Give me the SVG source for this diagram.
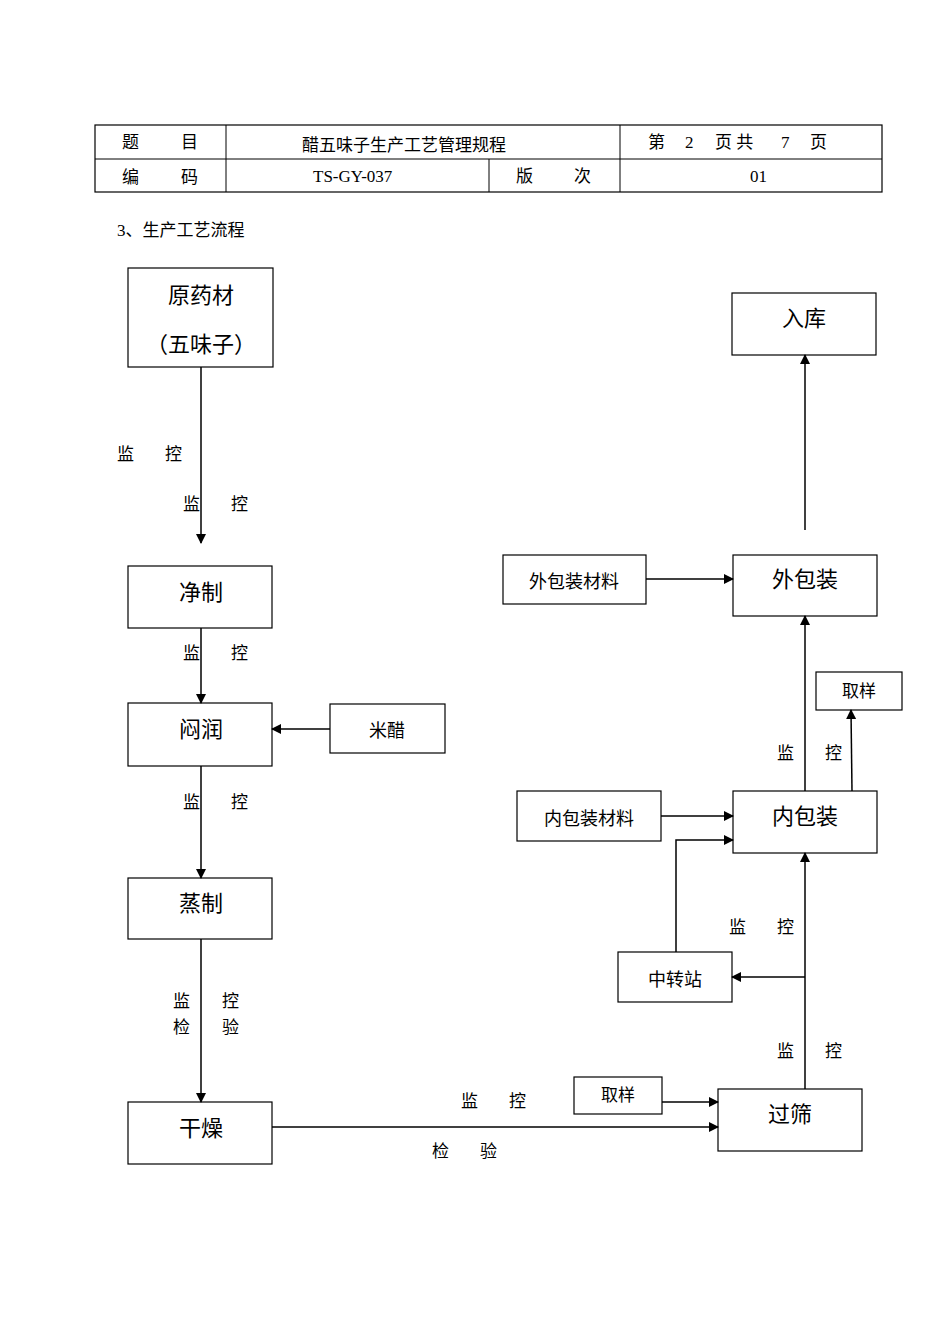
<svg xmlns="http://www.w3.org/2000/svg" width="950" height="1344" viewBox="0 0 950 1344">
<style>
text{font-family:"Liberation Serif","Noto Sans CJK SC",serif;fill:#000;white-space:pre}
.t{font-size:17px}
.b{font-size:22px;text-anchor:middle}
.m{font-size:18px;text-anchor:middle}
.s{font-size:17px}
rect{fill:#fff;stroke:#000;stroke-width:1.2}
line,polyline{stroke:#000;stroke-width:1.5;fill:none}
</style>
<defs><marker id="a" markerWidth="10" markerHeight="10" refX="9" refY="5" orient="auto" markerUnits="userSpaceOnUse"><path d="M0,0 L10,5 L0,10 z" fill="#000"/></marker></defs>
<g id="header">
<rect x="95" y="125" width="787" height="67"/>
<line x1="95" y1="159" x2="882" y2="159" style="stroke-width:1"/>
<line x1="226" y1="125" x2="226" y2="192" style="stroke-width:1"/>
<line x1="620" y1="125" x2="620" y2="192" style="stroke-width:1"/>
<line x1="489" y1="159" x2="489" y2="192" style="stroke-width:1"/>
<text class="t" x="122" y="148">题</text><text class="t" x="181" y="148">目</text>
<text class="t" x="302" y="151">醋五味子生产工艺管理规程</text>
<text class="t" x="648" y="148">第</text><text class="t" x="685" y="148">2</text><text class="t" x="715" y="148">页 共</text><text class="t" x="781" y="148">7</text><text class="t" x="810" y="148">页</text>
<text class="t" x="122" y="183">编</text><text class="t" x="181" y="183">码</text>
<text class="t" x="313" y="182">TS-GY-037</text>
<text class="t" x="516" y="182">版</text><text class="t" x="574" y="182">次</text>
<text class="t" x="750" y="182">01</text>
<text class="t" x="117" y="236">3、生产工艺流程</text>
</g>
<g id="n1"><rect x="128" y="268" width="145" height="99"/><text class="b" x="201" y="303">原药材</text><text class="b" x="201" y="352">（五味子）</text></g>
<g id="n2"><rect x="128" y="566" width="144" height="62"/><text class="b" x="201" y="600">净制</text></g>
<g id="n3"><rect x="128" y="703" width="144" height="63"/><text class="b" x="201" y="737">闷润</text></g>
<g id="n4"><rect x="330" y="704" width="115" height="49"/><text class="m" x="387" y="737">米醋</text></g>
<g id="n5"><rect x="128" y="878" width="144" height="61"/><text class="b" x="201" y="911">蒸制</text></g>
<g id="n6"><rect x="128" y="1102" width="144" height="62"/><text class="b" x="201" y="1136">干燥</text></g>
<g id="n7"><rect x="732" y="293" width="144" height="62"/><text class="b" x="804" y="326">入库</text></g>
<g id="n8"><rect x="733" y="555" width="144" height="61"/><text class="b" x="805" y="587">外包装</text></g>
<g id="n9"><rect x="503" y="555" width="143" height="49"/><text class="m" x="574" y="588">外包装材料</text></g>
<g id="n10"><rect x="816" y="672" width="86" height="38"/><text class="s" x="859" y="697" text-anchor="middle">取样</text></g>
<g id="n11"><rect x="733" y="791" width="144" height="62"/><text class="b" x="805" y="824">内包装</text></g>
<g id="n12"><rect x="517" y="791" width="144" height="50"/><text class="m" x="589" y="825">内包装材料</text></g>
<g id="n13"><rect x="618" y="952" width="114" height="50"/><text class="m" x="675" y="986">中转站</text></g>
<g id="n14"><rect x="718" y="1089" width="144" height="62"/><text class="b" x="790" y="1122">过筛</text></g>
<g id="n15"><rect x="574" y="1077" width="88" height="37"/><text class="s" x="618" y="1101" text-anchor="middle">取样</text></g>
<g id="connectors">
<line x1="201" y1="367" x2="201" y2="543" marker-end="url(#a)"/>
<line x1="201" y1="628" x2="201" y2="703" marker-end="url(#a)"/>
<line x1="330" y1="729" x2="272" y2="729" marker-end="url(#a)"/>
<line x1="201" y1="766" x2="201" y2="878" marker-end="url(#a)"/>
<line x1="201" y1="939" x2="201" y2="1102" marker-end="url(#a)"/>
<line x1="272" y1="1127" x2="718" y2="1127" marker-end="url(#a)"/>
<line x1="662" y1="1102" x2="718" y2="1102" marker-end="url(#a)"/>
<line x1="805" y1="1089" x2="805" y2="853" marker-end="url(#a)"/>
<line x1="805" y1="977" x2="732" y2="977" marker-end="url(#a)"/>
<polyline points="676,952 676,840 733,840" marker-end="url(#a)"/>
<line x1="661" y1="816" x2="733" y2="816" marker-end="url(#a)"/>
<line x1="805" y1="791" x2="805" y2="616" marker-end="url(#a)"/>
<line x1="852" y1="791" x2="851" y2="710" marker-end="url(#a)"/>
<line x1="646" y1="579" x2="733" y2="579" marker-end="url(#a)"/>
<line x1="805" y1="530" x2="805" y2="355" marker-end="url(#a)"/>
</g>
<g id="labels" class="s">
<text class="s" x="117" y="460">监</text><text class="s" x="165" y="460">控</text>
<text class="s" x="183" y="510">监</text><text class="s" x="231" y="510">控</text>
<text class="s" x="183" y="659">监</text><text class="s" x="231" y="659">控</text>
<text class="s" x="183" y="808">监</text><text class="s" x="231" y="808">控</text>
<text class="s" x="173" y="1007">监</text><text class="s" x="222" y="1007">控</text>
<text class="s" x="173" y="1033">检</text><text class="s" x="222" y="1033">验</text>
<text class="s" x="461" y="1107">监</text><text class="s" x="509" y="1107">控</text>
<text class="s" x="432" y="1157">检</text><text class="s" x="480" y="1157">验</text>
<text class="s" x="777" y="1057">监</text><text class="s" x="825" y="1057">控</text>
<text class="s" x="729" y="933">监</text><text class="s" x="777" y="933">控</text>
<text class="s" x="777" y="759">监</text><text class="s" x="825" y="759">控</text>
</g>
</svg>
